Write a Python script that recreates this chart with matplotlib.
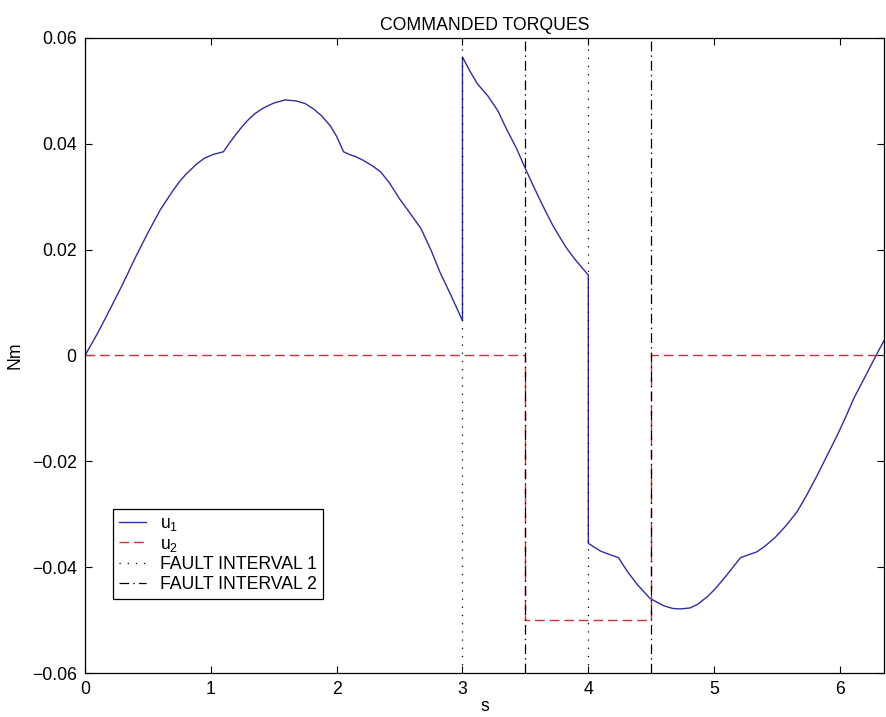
import numpy as np
import matplotlib
matplotlib.use("Agg")
import matplotlib.pyplot as plt

# commanded torque u1 (s, Nm)
t_u1 = [0.0, 0.1, 0.2, 0.3, 0.4, 0.5, 0.6, 0.7, 0.756, 0.8, 0.888, 0.95, 1.02, 1.1,
        1.15, 1.2, 1.25, 1.3, 1.35, 1.42, 1.5, 1.59, 1.68, 1.75, 1.816, 1.88, 1.95, 2.0, 2.055,
        2.1, 2.15, 2.21, 2.28, 2.35, 2.42, 2.5, 2.58, 2.67, 2.75, 2.82, 2.9, 3.0,
        3.0, 3.06, 3.12, 3.2, 3.28, 3.35, 3.43, 3.5, 3.57, 3.62, 3.67, 3.72, 3.78, 3.83, 3.89,
        3.95, 4.0,
        4.0, 4.1, 4.18, 4.24, 4.31, 4.39, 4.49, 4.6, 4.67, 4.73, 4.81, 4.87, 4.95, 5.0, 5.08,
        5.15, 5.21,
        5.28, 5.34, 5.4, 5.48, 5.57, 5.66, 5.74, 5.82, 5.9, 5.98, 6.05, 6.11, 6.2, 6.3, 6.35]
u1 = [0.0, 0.0042, 0.0088, 0.0135, 0.0185, 0.0232, 0.0276, 0.0312, 0.033, 0.0342, 0.0362,
      0.0373, 0.038, 0.0385,
      0.0402, 0.0418, 0.0433, 0.0446, 0.0457, 0.0468, 0.0477, 0.0483, 0.0481, 0.0476, 0.0466,
      0.0453, 0.0434, 0.0414, 0.0385,
      0.038, 0.0376, 0.0369, 0.0359, 0.0347, 0.0326, 0.0296, 0.027, 0.024, 0.0199, 0.0158,
      0.0118, 0.0066,
      0.0564, 0.0537, 0.0513, 0.0491, 0.0463, 0.0428, 0.0391, 0.0353, 0.0317, 0.0292, 0.0268,
      0.0245, 0.0221, 0.0202, 0.0183, 0.0166, 0.0152,
      -0.0355, -0.037, -0.0377, -0.0382, -0.0408, -0.0433, -0.0459, -0.0473, -0.0478, -0.0479,
      -0.0477, -0.047, -0.0455, -0.0443, -0.0421, -0.04, -0.0382,
      -0.0376, -0.0371, -0.0361, -0.0345, -0.0322, -0.0295, -0.0262, -0.0226, -0.0188, -0.015,
      -0.0114, -0.0081, -0.004, 0.0006, 0.0028]

# commanded torque u2
t_u2 = [0.0, 3.5, 3.5, 4.5, 4.5, 6.35]
u2 = [0.0, 0.0, -0.05, -0.05, 0.0, 0.0]

fault_1 = [3.0, 4.0]
fault_2 = [3.5, 4.5]

xticks = [0, 1, 2, 3, 4, 5, 6]
yticks = [-0.06, -0.04, -0.02, 0, 0.02, 0.04, 0.06]
ytick_labels = ["\u22120.06", "\u22120.04", "\u22120.02", "0", "0.02", "0.04", "0.06"]

plt.rcParams['font.family'] = ['Liberation Sans', 'DejaVu Sans']
plt.rcParams['mathtext.fontset'] = 'custom'
plt.rcParams['mathtext.rm'] = 'Liberation Sans'
plt.rcParams['mathtext.it'] = 'Liberation Sans'
plt.rcParams['lines.scale_dashes'] = False

fs = 12.7
fig = plt.figure(figsize=(8.86, 7.17), dpi=100)
ax = fig.add_axes([85 / 886, 1 - 673 / 717, 799 / 886, 635 / 717])

ax.plot(t_u1, u1, color='#2e2e9e', lw=1.0, label='u$_1$')
ax.plot(t_u2, u2, color='#cc3333', lw=1.0, linestyle=(0, (7, 3.5)), label='u$_2$')
for i, x in enumerate(fault_1):
    ax.axvline(x, color='black', lw=0.9, linestyle=(0, (0.9, 5)),
               label='FAULT INTERVAL 1' if i == 0 else None)
for i, x in enumerate(fault_2):
    ax.axvline(x, color='black', lw=0.9, linestyle=(0, (7, 3, 1, 3)),
               label='FAULT INTERVAL 2' if i == 0 else None)

ax.set_xlim(0, 6.35)
ax.set_ylim(-0.06, 0.06)
ax.set_xticks(xticks)
ax.set_xticklabels([str(v) for v in xticks])
ax.set_yticks(yticks)
ax.set_yticklabels(ytick_labels)
ax.tick_params(direction='in', length=5, width=0.8, top=True, right=True,
               labelsize=fs, pad=6)
for sp in ax.spines.values():
    sp.set_linewidth(0.9)

ax.set_title('COMMANDED TORQUES', fontsize=fs, pad=6)
ax.set_xlabel('s', fontsize=fs, labelpad=0)
ax.set_ylabel('Nm', fontsize=fs, labelpad=6)

leg = ax.legend(loc='lower left', bbox_to_anchor=(0.035, 0.1165), borderaxespad=0,
                fontsize=fs, handlelength=1.5, handletextpad=0.8, labelspacing=0.15,
                borderpad=0.35, fancybox=False, framealpha=1, edgecolor='black')
leg.get_frame().set_linewidth(0.9)

fig.savefig('out.png', dpi=100)
